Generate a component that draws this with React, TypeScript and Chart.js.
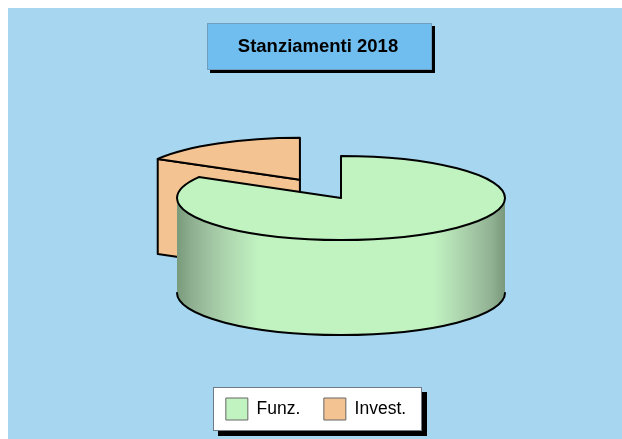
import React, { useEffect, useRef } from "react";
import { Chart, registerables } from "chart.js";

Chart.register(...registerables);

const categories = ["Funz.", "Invest."];
const allocations = [83.3, 16.7];
const sliceColors = ["#C1F3C1", "#F4C392"];
const explode = [0, 82];
const titleText = "Stanziamenti 2018";

const PIE_X = 333;
const PIE_Y = 190;
const RADIUS = 164;
const SQUASH = 42 / 164;
const DEPTH = 95;

function panel(ctx: CanvasRenderingContext2D, x: number, y: number, w: number, h: number, fill: string, border: string, shadow: number) {
  ctx.fillStyle = "#000";
  ctx.fillRect(x + shadow, y + shadow, w, h);
  ctx.fillStyle = fill;
  ctx.fillRect(x, y, w, h);
  ctx.strokeStyle = border;
  ctx.lineWidth = 1;
  ctx.strokeRect(x + 0.5, y + 0.5, w - 1, h - 1);
}

const backdrop = {
  id: "backdrop",
  afterLayout(chart: any) {
    chart.legend.left -= 2;
    chart.legend.right -= 2;
  },
  beforeDraw(chart: any) {
    const { ctx, width, height } = chart;
    ctx.save();
    ctx.fillStyle = "#A7D7F0";
    ctx.fillRect(0, 0, width, height);
    panel(ctx, 199, 15, 225, 47, "#70BEEF", "#6E9DBE", 3);
    panel(ctx, 205, 379, 209, 44, "#FFFFFF", "#6E7A85", 5);
    ctx.restore();
  },
};

const pie3d = {
  id: "pie3d",
  beforeDatasetDraw(chart: any, args: any) {
    const ctx: CanvasRenderingContext2D = chart.ctx;
    const arcs: any[] = args.meta.data;
    ctx.save();
    ctx.lineJoin = "round";
    ctx.lineCap = "round";
    ctx.strokeStyle = "#000";
    ctx.lineWidth = 2;
    const order = arcs.map((_, i) => i).sort((a, b) => (arcs[b].options.offset || 0) - (arcs[a].options.offset || 0));
    for (const i of order) {
      const arc = arcs[i];
      const R = arc.outerRadius;
      const yR = R * SQUASH;
      const mid = (arc.startAngle + arc.endAngle) / 2;
      const off = arc.options.offset || 0;
      const cx = PIE_X + Math.cos(mid) * off;
      const cy = PIE_Y + Math.sin(mid) * off * SQUASH;
      const color = arc.options.backgroundColor;
      const ex = cx + R * Math.cos(arc.startAngle);
      const ey = cy + yR * Math.sin(arc.startAngle);
      if (off > 0) {
        ctx.beginPath();
        ctx.moveTo(cx, cy);
        ctx.lineTo(ex, ey);
        ctx.lineTo(ex, ey + DEPTH);
        ctx.lineTo(cx, cy + DEPTH);
        ctx.closePath();
        ctx.fillStyle = color;
        ctx.fill();
        ctx.stroke();
      } else {
        const g = ctx.createLinearGradient(cx - R, 0, cx + R, 0);
        g.addColorStop(0, "#7A9A7C");
        g.addColorStop(0.05, "#90B192");
        g.addColorStop(0.1, "#A0C4A1");
        g.addColorStop(0.18, "#B3DEB4");
        g.addColorStop(0.25, color);
        g.addColorStop(0.78, color);
        g.addColorStop(0.84, "#B3DEB4");
        g.addColorStop(0.91, "#A0C4A1");
        g.addColorStop(0.96, "#90B192");
        g.addColorStop(1, "#7A987C");
        ctx.beginPath();
        ctx.ellipse(cx, cy, R, yR, 0, 0, Math.PI);
        ctx.ellipse(cx, cy + DEPTH, R, yR, 0, Math.PI, 0, true);
        ctx.closePath();
        ctx.fillStyle = g;
        ctx.fill();
        ctx.beginPath();
        ctx.ellipse(cx, cy + DEPTH, R, yR, 0, 0, Math.PI);
        ctx.stroke();
      }
      ctx.beginPath();
      ctx.moveTo(cx, cy);
      ctx.ellipse(cx, cy, R, yR, 0, arc.startAngle, arc.endAngle);
      ctx.closePath();
      ctx.fillStyle = color;
      ctx.fill();
      ctx.stroke();
    }
    ctx.restore();
    return false;
  },
};

export default function App() {
  const ref = useRef<HTMLCanvasElement>(null);
  useEffect(() => {
    const chart = new Chart(ref.current as HTMLCanvasElement, {
      type: "pie",
      data: {
        labels: categories,
        datasets: [
          {
            data: allocations,
            backgroundColor: sliceColors,
            borderColor: "#000",
            borderWidth: 2,
            offset: explode,
            clip: false,
          } as any,
        ],
      },
      options: {
        responsive: false,
        animation: false,
        radius: RADIUS,
        layout: { padding: { left: 6, right: 0, top: 0, bottom: 9 } },
        plugins: {
          tooltip: { enabled: false },
          title: {
            display: true,
            text: titleText,
            color: "#000",
            font: { family: "'Liberation Sans', Arial", size: 18.5, weight: "bold" },
            padding: { top: 27.5, bottom: 0 },
          },
          legend: {
            display: true,
            position: "bottom",
            labels: {
              color: "#000",
              font: { family: "'Liberation Sans', Arial", size: 17.5 },
              boxWidth: 22,
              boxHeight: 22,
              padding: 23.5,
              generateLabels(c: any) {
                return (Chart as any).overrides.pie.plugins.legend.labels.generateLabels(c).map((l: any) => ({
                  ...l,
                  lineWidth: 1,
                  strokeStyle: "#666",
                }));
              },
            },
          },
        },
      } as any,
      plugins: [backdrop, pie3d] as any,
    });
    return () => chart.destroy();
  }, []);
  return (
    <div style={{ position: "fixed", left: 8, top: 8, right: 0, bottom: 0, overflow: "hidden" }}>
      <canvas ref={ref} width={614} height={431} style={{ display: "block" }} />
    </div>
  );
}
